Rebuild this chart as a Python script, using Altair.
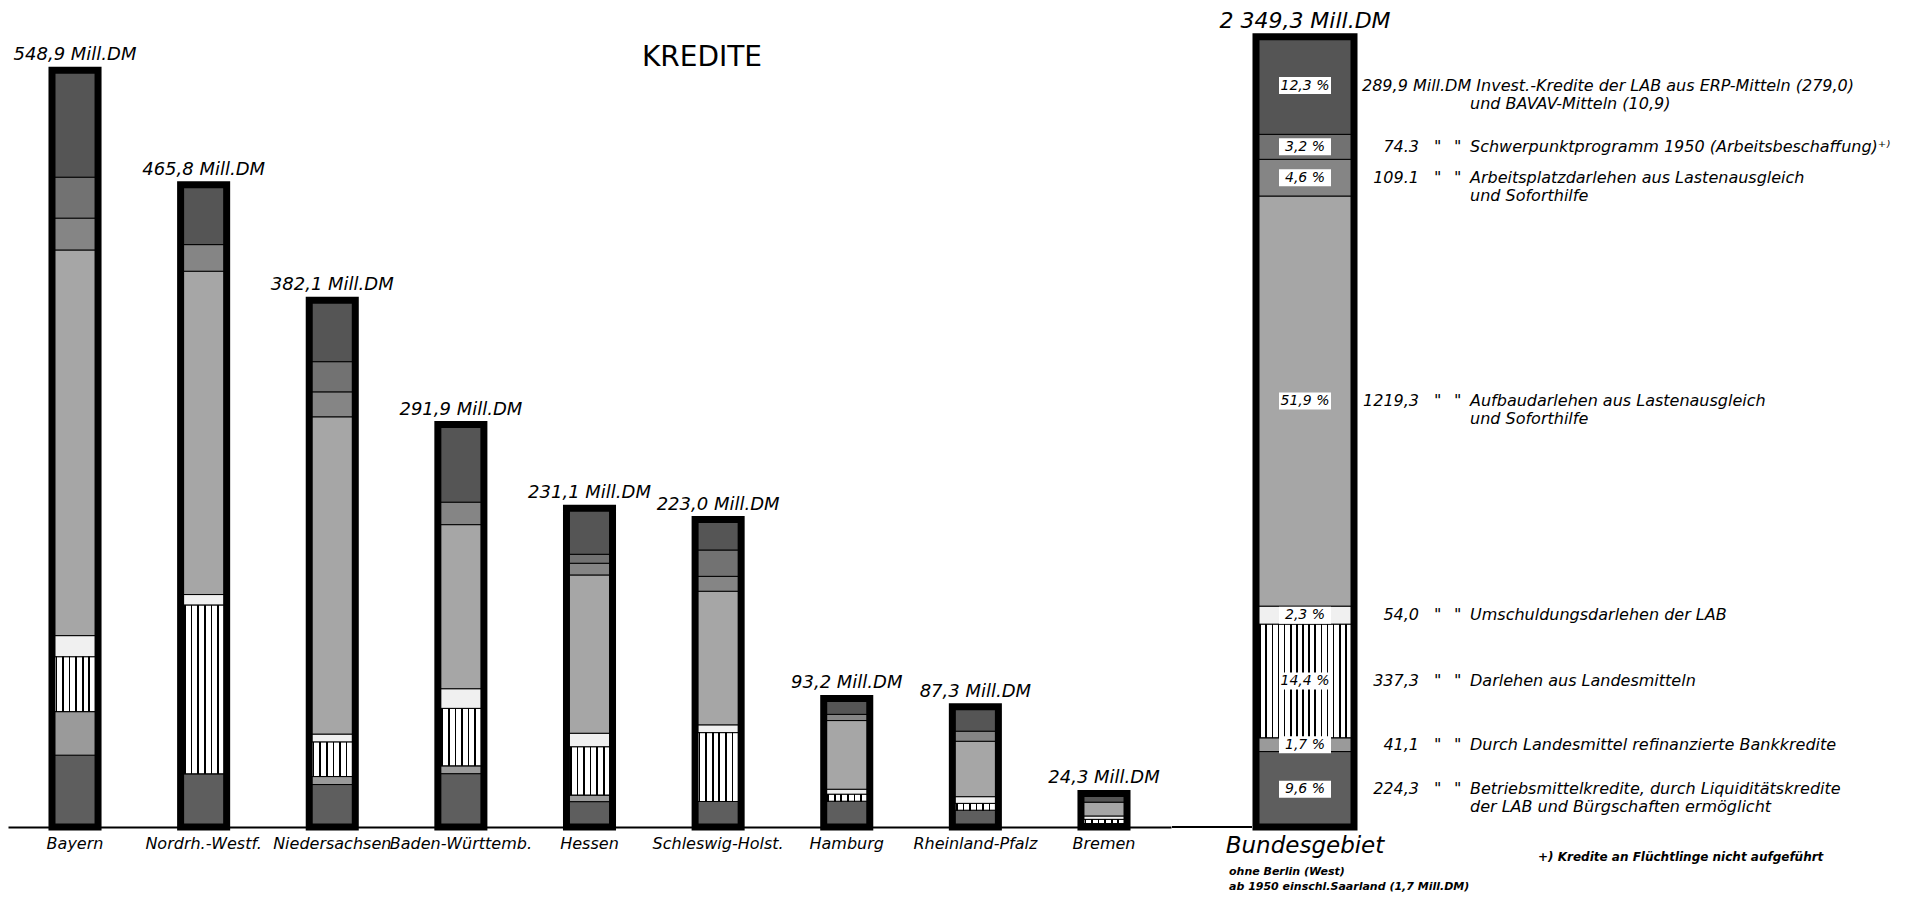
import altair as alt
import pandas as pd

# ---------------- data ----------------
laender = ["Bayern", "Nordrh.-Westf.", "Niedersachsen", "Baden-Württemb.", "Hessen",
           "Schleswig-Holst.", "Hamburg", "Rheinland-Pfalz", "Bremen"]
land_total_text = ["548,9", "465,8", "382,1", "291,9", "231,1", "223,0", "93,2", "87,3", "24,3"]

# segment order bottom -> top
segments = ["Betriebsmittelkredite", "Refinanzierte Bankkredite", "Darlehen aus Landesmitteln",
            "Umschuldungsdarlehen", "Aufbaudarlehen", "Arbeitsplatzdarlehen",
            "Schwerpunktprogramm 1950", "Invest.-Kredite ERP/BAVAV"]

betriebsmittel = [52.1, 38.6, 30.8, 38.7, 18.4, 18.5, 18.7, 12.2, 2.5]
bankkredite    = [31.6, 0.0, 5.8, 5.7, 4.8, 0.0, 0.0, 0.0, 0.0]
landesmittel   = [39.7, 122.3, 25.0, 41.6, 34.9, 49.9, 5.0, 4.9, 3.0]
umschuldung    = [15.4, 7.7, 5.8, 14.3, 9.9, 5.7, 3.7, 4.9, 2.5]
aufbau         = [279.7, 234.5, 230.1, 119.0, 114.8, 96.9, 49.8, 40.2, 10.0]
arbeitsplatz   = [23.1, 19.3, 18.1, 16.3, 8.5, 10.8, 4.5, 7.3, 0.0]
schwerpunkt    = [29.7, 0.0, 21.9, 0.0, 6.5, 19.1, 0.0, 0.0, 0.0]
erp            = [77.6, 43.4, 44.6, 56.3, 33.3, 22.1, 11.5, 17.8, 6.3]
land_series = [betriebsmittel, bankkredite, landesmittel, umschuldung,
               aufbau, arbeitsplatz, schwerpunkt, erp]

bund_name = "Bundesgebiet"
bund_total_text = "2 349,3 Mill.DM"
bund_values = [224.3, 41.1, 337.3, 54.0, 1219.3, 109.1, 74.3, 289.9]
bund_pct = ["9,6 %", "1,7 %", "14,4 %", "2,3 %", "51,9 %", "4,6 %", "3,2 %", "12,3 %"]
bund_val_text = ["224,3", "41,1", "337,3", "54,0", "1219,3", "109.1", "74.3", "289,9 Mill.DM"]
bund_desc1 = ["Betriebsmittelkredite, durch Liquiditätskredite",
              "Durch Landesmittel refinanzierte Bankkredite",
              "Darlehen aus Landesmitteln",
              "Umschuldungsdarlehen der LAB",
              "Aufbaudarlehen aus Lastenausgleich",
              "Arbeitsplatzdarlehen aus Lastenausgleich",
              "Schwerpunktprogramm 1950 (Arbeitsbeschaffung)\u207a\u207e",
              "Invest.-Kredite der LAB aus ERP-Mitteln (279,0)"]
bund_desc2 = ["der LAB und Bürgschaften ermöglicht", "", "", "", "und Soforthilfe",
              "und Soforthilfe", "", "und BAVAV-Mitteln (10,9)"]

title_text = ["KREDITE"]
bund_note1 = ["ohne Berlin (West)"]
bund_note2 = ["ab 1950 einschl.Saarland (1,7 Mill.DM)"]
footnote = ["+) Kredite an Flüchtlinge nicht aufgeführt"]

# ---------------- tables ----------------
rows = []
for j, seg in enumerate(segments):
    for i, land in enumerate(laender):
        rows.append({"land": land, "seg": seg, "order": j, "value": land_series[j][i]})
df_l = pd.DataFrame(rows)
df_lt = pd.DataFrame({
    "land": laender,
    "total": [round(sum(s[i] for s in land_series), 1) for i in range(len(laender))],
    "label": [t + " Mill.DM" for t in land_total_text],
})
df_b = pd.DataFrame({
    "land": bund_name, "seg": segments, "order": list(range(len(segments))),
    "value": bund_values, "pct": bund_pct, "valtxt": bund_val_text,
    "desc1": bund_desc1, "desc2": bund_desc2,
})
df_bt = pd.DataFrame({"land": [bund_name], "total": [round(sum(bund_values), 1)],
                      "label": [bund_total_text]})

# ---------------- style ----------------
FONT = "DejaVu Sans"
seg_colors = ["#5e5e5e", "#9a9a9a", "#d8d8d8", "#f0f0f0", "#a6a6a6", "#858585", "#727272", "#555555"]
color_enc = alt.Color("seg:N", scale=alt.Scale(domain=segments, range=seg_colors), legend=None)


def stripe_gradient(n):
    stops = []
    for k in range(n):
        a = k / n
        stops += [alt.GradientStop(offset=a, color="white"),
                  alt.GradientStop(offset=a + 0.55 / n, color="white"),
                  alt.GradientStop(offset=a + 0.55 / n, color="black"),
                  alt.GradientStop(offset=a + 0.8 / n, color="black"),
                  alt.GradientStop(offset=a + 0.8 / n, color="white")]
    stops.append(alt.GradientStop(offset=1, color="white"))
    return alt.LinearGradient(gradient="linear", stops=stops, x1=0, x2=1, y1=0, y2=0)


H = 819

# ---------------- left panel: Länder ----------------
xl = alt.X("land:N", scale=alt.Scale(domain=laender, paddingInner=0.642, paddingOuter=0.342),
           axis=alt.Axis(title=None, labelAngle=0, labelFont=FONT, labelFontStyle="italic",
                         labelFontSize=16, labelPadding=8, labelColor="black", ticks=False,
                         domain=True, domainColor="black", domainWidth=2, labelOverlap=False))
yscale_l = alt.Scale(domain=[0, 594], nice=False, zero=True)

stack_l = (alt.Chart(df_l)
           .transform_filter(alt.datum.value > 0)
           .transform_stack(stack="value", groupby=["land"], as_=["y0", "y1"],
                            sort=[alt.SortField("order", "ascending")]))
segs_l = stack_l.mark_bar(stroke="black", strokeWidth=1).encode(
    x=xl, y=alt.Y("y0:Q", scale=yscale_l, axis=None), y2="y1:Q", color=color_enc)
stripes_l = stack_l.transform_filter(alt.datum.seg == segments[2]).mark_bar(
    fill=stripe_gradient(7), stroke="black", strokeWidth=1).encode(
    x=xl, y=alt.Y("y0:Q", scale=yscale_l, axis=None), y2="y1:Q")
frame_l = alt.Chart(df_lt).mark_bar(fillOpacity=0, stroke="black", strokeWidth=7).encode(
    x=xl, y=alt.Y("total:Q", scale=yscale_l, axis=None))
labels_l = alt.Chart(df_lt).mark_text(baseline="bottom", dy=-6, font=FONT, fontStyle="italic",
                                      fontSize=18, fill="black").encode(
    x=xl, y=alt.Y("total:Q", scale=yscale_l, axis=None), text="label:N")
title_l = alt.Chart(pd.DataFrame({"t": title_text})).mark_text(
    font=FONT, fontSize=28, fill="black", align="center", baseline="middle").encode(
    x=alt.value(694), y=alt.value(50), text="t:N")

left = alt.layer(segs_l, stripes_l, frame_l, labels_l, title_l).properties(width=1163, height=H)

# ---------------- right panel: Bundesgebiet ----------------
xr = alt.X("land:N", scale=alt.Scale(domain=[bund_name], paddingInner=0, paddingOuter=0.857),
           axis=alt.Axis(title=None, labelAngle=0, labelFont=FONT, labelFontStyle="italic",
                         labelFontSize=23, labelPadding=7, labelColor="black", ticks=False,
                         domain=False))
yscale_r = alt.Scale(domain=[0, 2435], nice=False, zero=True)
yr0 = alt.Y("y0:Q", scale=yscale_r, axis=None)

stack_r = (alt.Chart(df_b)
           .transform_stack(stack="value", groupby=["land"], as_=["y0", "y1"],
                            sort=[alt.SortField("order", "ascending")])
           .transform_calculate(mid="(datum.y0 + datum.y1) / 2"))
ymid = alt.Y("mid:Q", scale=yscale_r, axis=None)

baseline_ext = alt.Chart(pd.DataFrame({"t": [0]})).mark_rule(color="black", strokeWidth=2).encode(
    x=alt.value(0), x2=alt.value(80), y=alt.value(H))
segs_r = stack_r.mark_bar(stroke="black", strokeWidth=1).encode(x=xr, y=yr0, y2="y1:Q", color=color_enc)
stripes_r = stack_r.transform_filter(alt.datum.seg == segments[2]).mark_bar(
    fill=stripe_gradient(16), stroke="black", strokeWidth=1).encode(x=xr, y=yr0, y2="y1:Q")
frame_r = alt.Chart(df_bt).mark_bar(fillOpacity=0, stroke="black", strokeWidth=7).encode(
    x=xr, y=alt.Y("total:Q", scale=yscale_r, axis=None))
label_r = alt.Chart(df_bt).mark_text(baseline="bottom", dy=-4, font=FONT, fontStyle="italic",
                                     fontSize=22, fill="black").encode(
    x=xr, y=alt.Y("total:Q", scale=yscale_r, axis=None), text="label:N")
pct_box = stack_r.mark_tick(color="white", opacity=1, size=52, thickness=17).encode(x=xr, y=ymid)
pct_txt = stack_r.mark_text(font=FONT, fontStyle="italic", fontSize=14, fill="black").encode(
    x=xr, y=ymid, text="pct:N")

legend_style = dict(font=FONT, fontStyle="italic", fontSize=16, fill="black", baseline="middle")
rest = stack_r.transform_filter(alt.datum.seg != segments[7])
first = stack_r.transform_filter(alt.datum.seg == segments[7])
val_txt = rest.mark_text(align="right", **legend_style).encode(
    x=alt.value(247), y=ymid, text="valtxt:N")
ditto1 = rest.mark_text(align="left", **legend_style).encode(
    x=alt.value(262), y=ymid, text=alt.value('"'))
ditto2 = rest.mark_text(align="left", **legend_style).encode(
    x=alt.value(282), y=ymid, text=alt.value('"'))
desc1_txt = rest.mark_text(align="left", **legend_style).encode(
    x=alt.value(298), y=ymid, text="desc1:N")
first_txt = first.transform_calculate(line="datum.valtxt + ' ' + datum.desc1").mark_text(
    align="left", **legend_style).encode(x=alt.value(190), y=ymid, text="line:N")
desc2_txt = stack_r.mark_text(align="left", dy=18, **legend_style).encode(
    x=alt.value(298), y=ymid, text="desc2:N")

note_style = dict(font=FONT, fontStyle="italic", fontWeight="bold", fontSize=11, fill="black",
                  align="left", baseline="middle")
note1 = alt.Chart(pd.DataFrame({"t": bund_note1})).mark_text(**note_style).encode(
    x=alt.value(57), y=alt.value(864), text="t:N")
note2 = alt.Chart(pd.DataFrame({"t": bund_note2})).mark_text(**note_style).encode(
    x=alt.value(57), y=alt.value(879), text="t:N")
foot = alt.Chart(pd.DataFrame({"t": footnote})).mark_text(
    font=FONT, fontStyle="italic", fontWeight="bold", fontSize=12, fill="black",
    align="left", baseline="middle").encode(x=alt.value(366), y=alt.value(849), text="t:N")

right = alt.layer(baseline_ext, segs_r, stripes_r, frame_r, label_r, pct_box, pct_txt, val_txt,
                  ditto1, ditto2, desc1_txt, first_txt, desc2_txt, note1, note2,
                  foot).resolve_scale(y="independent").properties(width=266, height=H)

chart = (alt.hconcat(left, right, spacing=0)
         .properties(padding=0)
         .configure_view(stroke=None))

chart.save("out.html", embed_options={"renderer": "svg", "actions": False})
